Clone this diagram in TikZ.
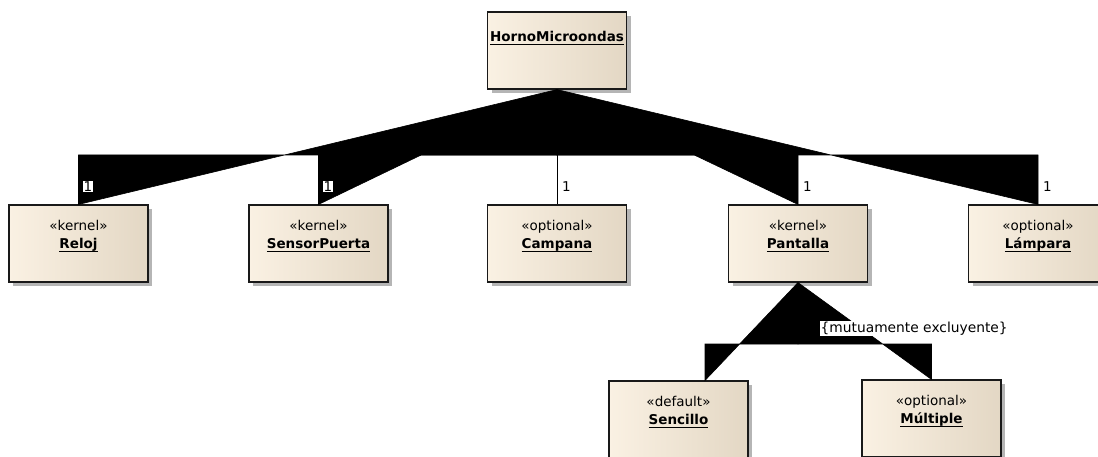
\documentclass[tikz,border=0pt]{standalone}
\usepackage{fontspec}
\setmainfont{DejaVu Sans}
\usetikzlibrary{shadows}
\definecolor{creamL}{HTML}{FAF1E3}
\definecolor{creamR}{HTML}{E3D7C4}
\definecolor{shadowc}{HTML}{B5B5B5}
\newcommand{\ulname}[1]{\setbox0\hbox{#1}\rlap{\rule[-3pt]{\wd0}{0.9pt}}\box0}
\tikzset{
  cls/.style={draw=black!90, line width=1.1pt, left color=creamL, right color=creamR,
    minimum width=139pt, minimum height=77pt, inner sep=0pt,
    drop shadow={shadow xshift=4pt, shadow yshift=-4pt, fill=shadowc, opacity=1}},
  stereo/.style={font=\fontsize{13.5}{15}\selectfont, inner sep=0pt, anchor=base},
  cname/.style={font=\fontsize{13.5}{15}\selectfont\bfseries, inner sep=0pt, anchor=base},
  conn/.style={fill=black, draw=black, line width=0.6pt},
  mult/.style={fill=white, font=\fontsize{13.5}{15}\selectfont, inner sep=1pt, anchor=west},
}
\begin{document}
\begin{tikzpicture}[x=1pt,y=-1pt]
\useasboundingbox (0,0) rectangle (1098,457);
% class boxes
\node[cls] (horno) at (557,50.5) {};
\node[cls] (reloj) at (78.5,243.5) {};
\node[cls] (sensor) at (318.5,243.5) {};
\node[cls] (campana) at (557,243.5) {};
\node[cls] (pantalla) at (798,243.5) {};
\node[cls] (lampara) at (1038,243.5) {};
\node[cls] (sencillo) at (678.5,419.5) {};
\node[cls] (multiple) at (931.5,418.5) {};
% texts
\node[cname] (hornoT) at ([yshift=-30.5pt]horno.north) {\ulname{HornoMicroondas}};
\node[stereo] (relojS) at ([yshift=-26.5pt]reloj.north) {«kernel»};
\node[cname] (relojT) at ([yshift=-44pt]reloj.north) {\ulname{Reloj}};
\node[stereo] (sensorS) at ([yshift=-26.5pt]sensor.north) {«kernel»};
\node[cname] (sensorT) at ([yshift=-44pt]sensor.north) {\ulname{SensorPuerta}};
\node[stereo] (campanaS) at ([yshift=-26.5pt]campana.north) {«optional»};
\node[cname] (campanaT) at ([yshift=-44pt]campana.north) {\ulname{Campana}};
\node[stereo] (pantallaS) at ([yshift=-26.5pt]pantalla.north) {«kernel»};
\node[cname] (pantallaT) at ([yshift=-44pt]pantalla.north) {\ulname{Pantalla}};
\node[stereo] (lamparaS) at ([yshift=-26.5pt]lampara.north) {«optional»};
\node[cname] (lamparaT) at ([yshift=-44pt]lampara.north) {\ulname{Lámpara}};
\node[stereo] (sencilloS) at ([yshift=-26.5pt]sencillo.north) {«default»};
\node[cname] (sencilloT) at ([yshift=-44pt]sencillo.north) {\ulname{Sencillo}};
\node[stereo] (multipleS) at ([yshift=-26.5pt]multiple.north) {«optional»};
\node[cname] (multipleT) at ([yshift=-44pt]multiple.north) {\ulname{Múltiple}};
% connectors
\coordinate (lvl) at (0,155);
\coordinate (lvl2) at (0,344);
\coordinate (sencA) at ([xshift=26.5pt]sencillo.north);
\filldraw[conn] (horno.south) -- (horno.south |- lvl) -- (lvl -| reloj.north) -- (reloj.north) -- cycle;
\filldraw[conn] (horno.south) -- (horno.south |- lvl) -- (lvl -| sensor.north) -- (sensor.north) -- cycle;
\filldraw[conn] (horno.south) -- (horno.south |- lvl) -- (lvl -| pantalla.north) -- (pantalla.north) -- cycle;
\filldraw[conn] (horno.south) -- (horno.south |- lvl) -- (lvl -| lampara.north) -- (lampara.north) -- cycle;
\draw[line width=0.9pt] (horno.south) -- (campana.north);
\filldraw[conn] (pantalla.south) -- (pantalla.south |- lvl2) -- (lvl2 -| sencA) -- (sencA) -- cycle;
\filldraw[conn] (pantalla.south) -- (pantalla.south |- lvl2) -- (lvl2 -| multiple.north) -- (multiple.north) -- cycle;
% multiplicities
\node[mult] (m1) at ([xshift=4pt,yshift=18pt]reloj.north) {1};
\node[mult] (m2) at ([xshift=4pt,yshift=18pt]sensor.north) {1};
\node[mult] (m3) at ([xshift=4pt,yshift=18pt]campana.north) {1};
\node[mult] (m4) at ([xshift=4pt,yshift=18pt]pantalla.north) {1};
\node[mult] (m5) at ([xshift=4pt,yshift=18pt]lampara.north) {1};
\node[mult, font=\fontsize{13.8}{15}\selectfont, inner sep=0.5pt] (excl) at ([xshift=22pt,yshift=-46pt]pantalla.south) {\{mutuamente excluyente\}};
\end{tikzpicture}
\end{document}
